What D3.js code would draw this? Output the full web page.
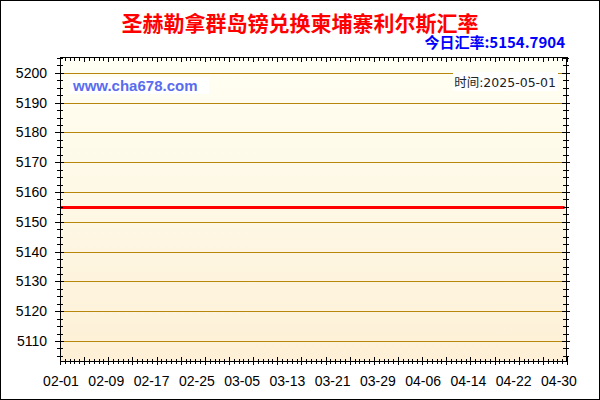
<html>
<head>
<meta charset="utf-8"/>
<script src="https://d3js.org/d3.v7.min.js"></script>
<style type="text/css">
body {
  margin: 0;
  overflow: hidden;
  background: #fff;
}
text { font-family: "Liberation Sans", Arial, sans-serif; }
.cjk { font-family: "Noto Sans CJK SC", "Liberation Sans", sans-serif; }
</style>
</head>
<body>
<div id="v"></div>
<script type="text/javascript">
// data
var title = "圣赫勒拿群岛镑兑换柬埔寨利尔斯汇率";
var todayLabel = "今日汇率:5154.7904";
var timeLabel = "时间:2025-05-01";
var siteLabel = "www.cha678.com";
var dates = ["2025-02-01", "2025-02-09", "2025-02-17", "2025-02-25", "2025-03-05", "2025-03-13",
             "2025-03-21", "2025-03-29", "2025-04-06", "2025-04-14", "2025-04-22", "2025-04-30", "2025-05-01"];
var rates = [5154.7904, 5154.7904, 5154.7904, 5154.7904, 5154.7904, 5154.7904,
             5154.7904, 5154.7904, 5154.7904, 5154.7904, 5154.7904, 5154.7904, 5154.7904];
var xTickDates = ["2025-02-01", "2025-02-09", "2025-02-17", "2025-02-25", "2025-03-05", "2025-03-13",
                  "2025-03-21", "2025-03-29", "2025-04-06", "2025-04-14", "2025-04-22", "2025-04-30"];
var xTickLabels = ["02-01", "02-09", "02-17", "02-25", "03-05", "03-13",
                   "03-21", "03-29", "04-06", "04-14", "04-22", "04-30"];
var yTicks = [5110, 5120, 5130, 5140, 5150, 5160, 5170, 5180, 5190, 5200];

var width = 600, height = 400;
var pLeft = 60, pTop = 57, pRight = 567, pBottom = 361;
var parse = d3.utcParse("%Y-%m-%d");

var svg = d3.select("#v").append("svg")
  .attr("width", width)
  .attr("height", height);

var grad = svg.append("defs").append("linearGradient")
  .attr("id", "bg").attr("x1", 0).attr("y1", 0).attr("x2", 0).attr("y2", 1);
grad.append("stop").attr("offset", "0%").attr("stop-color", "#fffff3");
grad.append("stop").attr("offset", "100%").attr("stop-color", "#fdf0d6");

svg.append("rect")
  .attr("x", 0.5).attr("y", 0.5)
  .attr("width", width - 1).attr("height", height - 1)
  .attr("fill", "#fff").attr("stroke", "#000");

var x = d3.scaleUtc()
  .domain([parse("2025-02-01"), new Date(Date.UTC(2025, 4, 1, 10))])
  .range([pLeft + 1, pRight]);
var y = d3.scaleLinear()
  .domain([5103.3, 5205.3])
  .range([pBottom, pTop]);
// minor tick index along the x axis
var xi = d3.scaleLinear().domain([0, 105]).range([pLeft, pRight]);

svg.append("rect")
  .attr("x", pLeft).attr("y", pTop)
  .attr("width", pRight - pLeft).attr("height", pBottom - pTop)
  .attr("fill", "url(#bg)");

svg.selectAll(".grid")
  .data(yTicks).enter()
  .append("line")
  .attr("class", "grid")
  .attr("x1", pLeft).attr("x2", pRight)
  .attr("y1", function(d) { return Math.round(y(d)) + 0.5; })
  .attr("y2", function(d) { return Math.round(y(d)) + 0.5; })
  .attr("stroke", "#b8860b")
  .attr("stroke-width", 1);

// label boxes
svg.append("rect")
  .attr("x", 70).attr("y", 77).attr("width", 139).attr("height", 17)
  .attr("fill", "#fff");
svg.append("text")
  .attr("x", 73).attr("y", 91)
  .attr("fill", "#5a6cee")
  .style("font-size", "15px").style("font-weight", "bold")
  .text(siteLabel);

svg.append("rect")
  .attr("x", 453).attr("y", 72).attr("width", 105).attr("height", 19)
  .attr("fill", "#fff");
svg.append("text")
  .attr("x", 556).attr("y", 87)
  .attr("text-anchor", "end")
  .attr("fill", "#222")
  .style("font-size", "12.5px")
  .style("font-family", "'DejaVu Sans', 'Noto Sans CJK SC'")
  .text(timeLabel);

// series
var line = d3.line()
  .x(function(d, i) { return x(parse(dates[i])); })
  .y(function(d) { return y(d); });
svg.append("path")
  .datum(rates)
  .attr("d", line)
  .attr("fill", "none")
  .attr("stroke", "#ff0000")
  .attr("stroke-width", 3);

// frame
svg.append("rect")
  .attr("x", pLeft + 0.5).attr("y", pTop + 0.5)
  .attr("width", pRight - pLeft - 1).attr("height", pBottom - pTop)
  .attr("fill", "none").attr("stroke", "#000");

// y ticks (minor every 2.5)
var yMinor = d3.range(5105, 5205.3, 2.5);
svg.selectAll(".ytl")
  .data(yMinor).enter()
  .append("line")
  .attr("x1", function(d) { return d % 10 == 0 ? pLeft - 5 : pLeft - 3; })
  .attr("x2", function(d) { return d % 10 == 0 ? pLeft + 4 : pLeft + 3; })
  .attr("y1", function(d) { return Math.round(y(d)) + 0.5; })
  .attr("y2", function(d) { return Math.round(y(d)) + 0.5; })
  .attr("stroke", "#000");
svg.selectAll(".ytr")
  .data(yMinor).enter()
  .append("line")
  .attr("x1", function(d) { return d % 10 == 0 ? pRight - 5 : pRight - 4; })
  .attr("x2", function(d) { return d % 10 == 0 ? pRight + 3 : pRight + 2; })
  .attr("y1", function(d) { return Math.round(y(d)) + 0.5; })
  .attr("y2", function(d) { return Math.round(y(d)) + 0.5; })
  .attr("stroke", "#000");

svg.selectAll(".ylab")
  .data(yTicks).enter()
  .append("text")
  .attr("x", 47)
  .attr("y", function(d) { return y(d) + 5; })
  .attr("text-anchor", "end")
  .attr("fill", "#000")
  .style("font-size", "14px")
  .text(function(d) { return d; });

// x ticks
var xMinor = d3.range(0, 106);
svg.selectAll(".xtb")
  .data(xMinor).enter()
  .append("line")
  .attr("x1", function(d) { return Math.round(xi(d)) + 0.5; })
  .attr("x2", function(d) { return Math.round(xi(d)) + 0.5; })
  .attr("y1", function(d) { return d % 5 == 0 ? pBottom - 4 : pBottom - 2; })
  .attr("y2", function(d) { return d % 5 == 0 ? pBottom + 4 : pBottom + 3; })
  .attr("stroke", "#000");
svg.selectAll(".xtt")
  .data(xMinor).enter()
  .append("line")
  .attr("x1", function(d) { return Math.round(xi(d)) + 0.5; })
  .attr("x2", function(d) { return Math.round(xi(d)) + 0.5; })
  .attr("y1", pTop)
  .attr("y2", function(d) { return d % 5 == 0 ? pTop + 5 : pTop + 4; })
  .attr("stroke", "#000");

svg.selectAll(".xlab")
  .data(xTickDates).enter()
  .append("text")
  .attr("x", function(d) { return x(parse(d)); })
  .attr("y", 386)
  .attr("text-anchor", "middle")
  .attr("fill", "#000")
  .style("font-size", "14px")
  .text(function(d, i) { return xTickLabels[i]; });

// titles
svg.append("text")
  .attr("class", "cjk")
  .attr("x", 300).attr("y", 31)
  .attr("text-anchor", "middle")
  .attr("fill", "#ff0000")
  .style("font-size", "21px").style("font-weight", "bold")
  .text(title);
svg.append("text")
  .attr("class", "cjk")
  .attr("x", 565).attr("y", 48)
  .attr("text-anchor", "end")
  .attr("fill", "#0000ff")
  .style("font-size", "15px").style("font-weight", "bold")
  .text(todayLabel);
</script>
</body>
</html>
